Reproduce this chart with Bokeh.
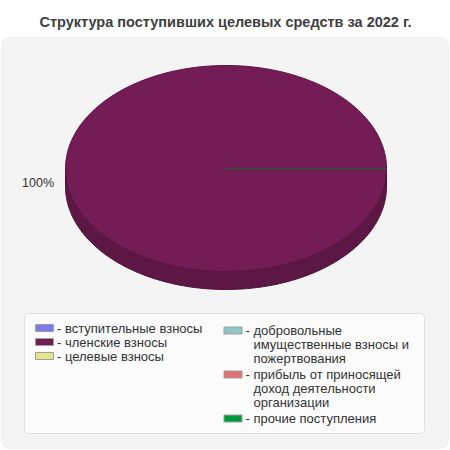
import numpy as np
from bokeh.plotting import figure
from bokeh.models import Range1d, BoxAnnotation
from bokeh.core.properties import value
from bokeh.embed import file_html
from bokeh.resources import INLINE

# ---- data ----
title = "Структура поступивших целевых средств за 2022 г."
categories = [
    "вступительные взносы",
    "членские взносы",
    "целевые взносы",
    "добровольные\nимущественные взносы и\nпожертвования",
    "прибыль от приносящей\nдоход деятельности\nорганизации",
    "прочие поступления",
]
values = [0, 100, 0, 0, 0, 0]
colors = ["#7b7bee", "#741c56", "#e6e68c", "#8cc6c6", "#e07272", "#009a3a"]
edge_colors = ["#5050b0", "#5c1544", "#a0a050", "#5a9090", "#a04848", "#0a6b2a"]
side_colors = ["#6262c0", "#5c1744", "#b8b870", "#70a0a0", "#b45a5a", "#007a2e"]
pct_label = "100%"

# ---- geometry (reference pixel units) ----
W = H = 450
FIG = 450
S = FIG / 450.0
FONT = "Liberation Sans"

def px(v):
    return f"{v * S:.2f}px"

p = figure(width=FIG, height=FIG, x_range=Range1d(0, W), y_range=Range1d(H, 0),
           output_backend="svg", toolbar_location=None, min_border=0)
p.axis.visible = False
p.grid.visible = False
p.outline_line_color = None
p.background_fill_color = "white"
p.border_fill_color = "white"

# panel
panel = BoxAnnotation(left=1, right=448, top=37, bottom=448, fill_color="#f4f4f4",
                      fill_alpha=1, line_color="#e0e0e0", line_width=1,
                      border_radius=8, level="underlay")
p.add_layout(panel)
legbox = BoxAnnotation(left=24, right=424, top=313, bottom=433, fill_color="#fbfbfb",
                       fill_alpha=1, line_color="#a8a8a8", line_width=1,
                       border_radius=4, level="underlay")
p.add_layout(legbox)

# title
p.text(x=[225], y=[21], text=[title], text_font=value(FONT), text_font_style="bold",
       text_font_size=px(14.5), text_color="#404040", text_align="center",
       text_baseline="middle")

# pie (3D elliptical)
cx, cy, rx, ry, depth = 225.5, 168.0, 160.5, 103.0, 18.0
vals = np.array(values, dtype=float)
frac = vals / vals.sum()
ends = np.cumsum(frac) * 2 * np.pi
starts = ends - frac * 2 * np.pi

side_xs, side_ys, side_c = [], [], []
for a0, a1, c in zip(starts, ends, side_colors):
    lo, hi = max(a0, 0.0), min(a1, np.pi)
    if hi > lo:
        t = np.linspace(lo, hi, 200)
        xs = np.concatenate([cx + rx * np.cos(t), (cx + rx * np.cos(t))[::-1]])
        ys = np.concatenate([cy + ry * np.sin(t), (cy + depth + ry * np.sin(t))[::-1]])
        side_xs.append(list(xs)); side_ys.append(list(ys)); side_c.append(c)
p.patches(xs=side_xs, ys=side_ys, fill_color=side_c, line_color="#4a1238", line_width=1)

top_xs, top_ys = [], []
for a0, a1 in zip(starts, ends):
    n = max(2, int((a1 - a0) / (2 * np.pi) * 400))
    t = np.linspace(a0, a1, n)
    top_xs.append([cx] + list(cx + rx * np.cos(t)))
    top_ys.append([cy] + list(cy + ry * np.sin(t)))
p.patches(xs=top_xs, ys=top_ys, fill_color=colors, line_color=edge_colors, line_width=1)
p.text(x=[53.5], y=[182], text=[pct_label], text_font=value(FONT),
       text_font_size=px(12.5), text_color="#333333", text_align="right",
       text_baseline="middle")

# legend
col_x = [35, 223.5]
col_y0 = [327.5, 330]
line_h = 14.0
item_gap = 2.0
sw_x, sw_y, sw_c = [], [], []
tx, ty, tt = [], [], []
pos = [0, 0, 0, 1, 1, 1]
cur = list(col_y0)
for lab, c, col in zip(categories, colors, pos):
    y = cur[col]
    sw_x.append(col_x[col] + 9); sw_y.append(y); sw_c.append(c)
    lines = lab.split("\n")
    for i, ln in enumerate(lines):
        tx.append(col_x[col] + 21.5 if i == 0 else col_x[col] + 29.5)
        ty.append(y + i * line_h)
        tt.append(("- " + ln) if i == 0 else ln)
    cur[col] = y + len(lines) * line_h + (item_gap if col == 1 else 0)

p.rect(x=sw_x, y=sw_y, width=18 * S, height=7 * S, width_units="screen",
       height_units="screen", fill_color=sw_c, line_color="#a0a0a0", line_width=1)
p.text(x=tx, y=ty, text=tt, text_font=value(FONT), text_font_size=px(13),
       text_color="#333333", text_align="left", text_baseline="middle")

open("out.html", "w").write(file_html(p, INLINE))
